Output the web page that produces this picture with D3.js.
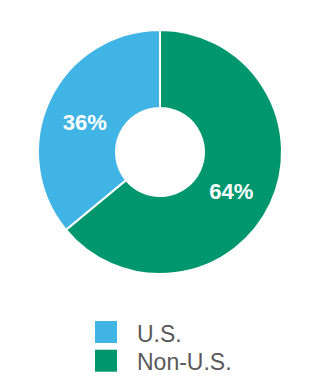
<!DOCTYPE html>
<html>
<head>
<meta charset="utf-8">
<script src="https://cdn.jsdelivr.net/npm/d3@7.9.0/dist/d3.min.js"></script>
<style>
  body { margin: 0; background: #fff; }
  svg { display: block; font-family: "Liberation Sans", Arial, sans-serif; }
</style>
</head>
<body>
<svg id="chart" width="320" height="380"></svg>
<script>
// Data
const categories = ['U.S.', 'Non-U.S.'];
const shares = [36, 64];
const colorList = ['#41b4e6', '#00976f'];

const svg = d3.select('#chart');
const cx = 160, cy = 152;
const outerR = 122, innerR = 44;

let colors = d3.scaleOrdinal().domain(categories).range(colorList);

// draw Non-U.S. first clockwise from 12 o'clock, U.S. fills the rest
let data = categories.map((c, i) => ({ label: c, value: shares[i] }));
let pie = d3.pie().value((d) => d.value).sort(null);
let arcData = pie([data[1], data[0]]);
let arcGen = d3.arc().innerRadius(innerR).outerRadius(outerR);

let g = svg.append('g').attr('transform', `translate(${cx},${cy})`);

g.selectAll('path')
  .data(arcData)
  .join('path')
  .attr('d', arcGen)
  .attr('fill', (d) => colors(d.data.label))
  .attr('stroke', '#fff')
  .attr('stroke-width', 2);

// Percent labels (sit a little low/left of the true centroid in the original)
let labelArc = d3.arc().innerRadius(81).outerRadius(81);
g.append('g')
  .attr('transform', 'translate(-2,5)')
  .selectAll('text.pct')
  .data(arcData)
  .join('text')
  .attr('class', 'pct')
  .attr('x', (d) => labelArc.centroid(d)[0])
  .attr('y', (d) => labelArc.centroid(d)[1])
  .attr('text-anchor', 'middle')
  .attr('dominant-baseline', 'central')
  .attr('fill', '#fff')
  .attr('font-weight', 'bold')
  .attr('font-size', 22)
  .text((d) => `${d.data.value}%`);

// Legend
let legend = svg.append('g').attr('transform', 'translate(95,321)');
categories.forEach((c, i) => {
  let row = legend.append('g').attr('transform', `translate(0,${i * 28.7})`);
  row.append('rect')
    .attr('width', 22)
    .attr('height', 22)
    .attr('fill', colors(c));
  row.append('text')
    .attr('x', 42)
    .attr('y', 20.5)
    .attr('fill', '#595959')
    .attr('font-size', 23)
    .text(c);
});
</script>
</body>
</html>
